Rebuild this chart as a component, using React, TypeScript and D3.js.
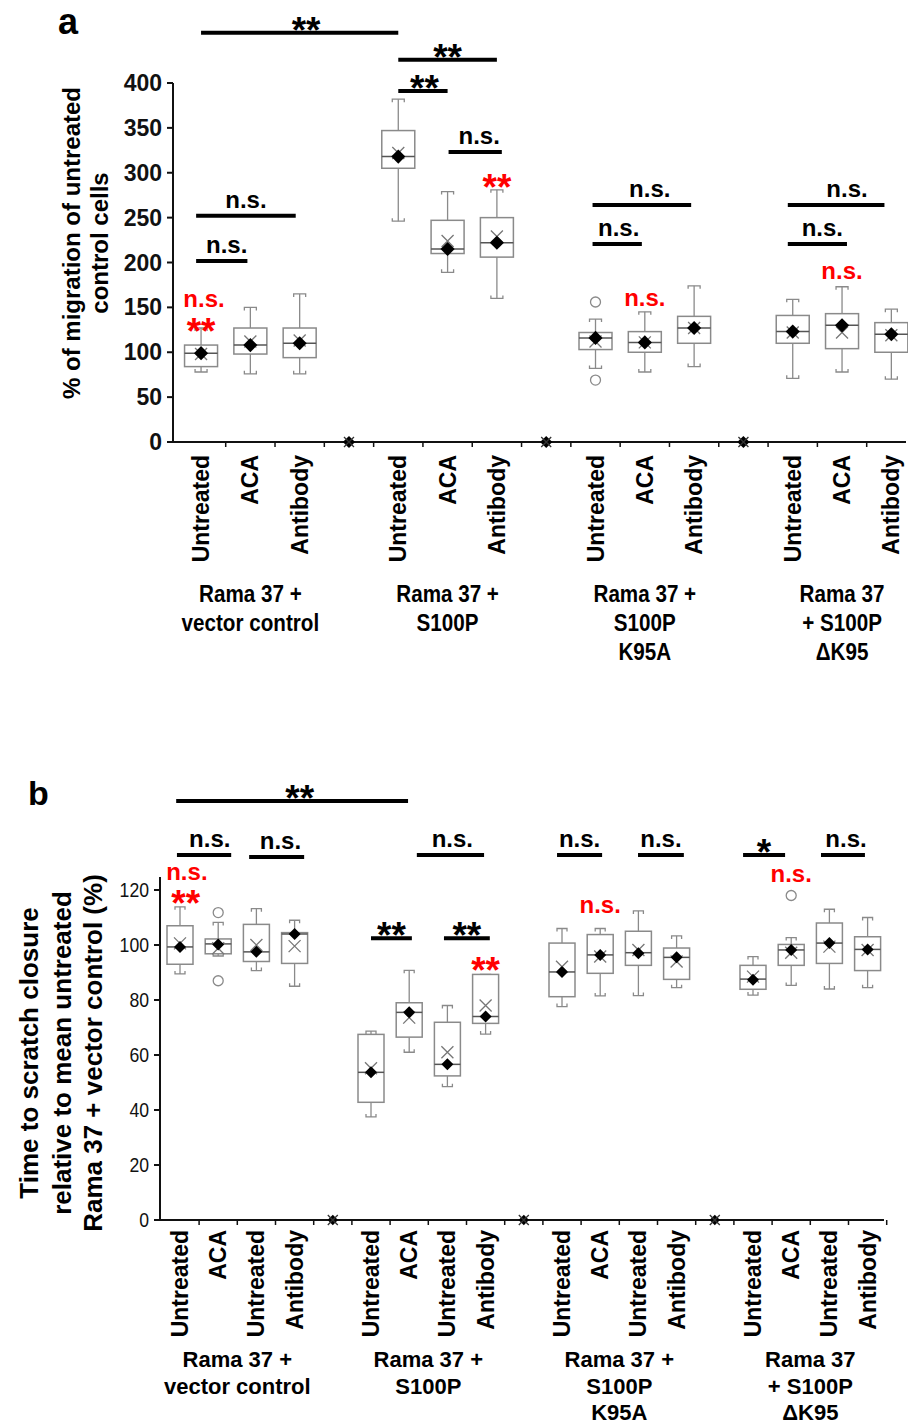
import React from "react";
import * as d3 from "d3";

const ARIAL = "'Liberation Sans', Arial, sans-serif";

// ---------- panel a ----------
const catsA = ["Untreated", "ACA", "Antibody"];
const groupsA = [
  ["Rama 37 +", "vector control"],
  ["Rama 37 +", "S100P"],
  ["Rama 37 +", "S100P", "K95A"],
  ["Rama 37", "+ S100P", "\u0394K95"],
];
// [low whisker, q1, median, q3, high whisker]
const boxesA = [
  [78, 84, 99, 108, 127],
  [76, 98, 108, 127, 150],
  [76, 94, 110, 127, 165],
  [246, 305, 318, 347, 382],
  [189, 210, 215, 247, 279],
  [160, 206, 222, 250, 281],
  [82, 103, 116, 122, 137],
  [78, 100, 111, 123, 145],
  [84, 110, 127, 140, 174],
  [71, 110, 123, 141, 159],
  [78, 104, 130, 143, 173],
  [70, 100, 120, 133, 148],
];
const diamondA = [99, 108, 110, 318, 215, 222, 116, 111, 127, 123, 130, 120];
const crossA = [98, 112, 113, 322, 224, 229, 112, 111, 127, 122, 122, 119];
const outliersA = [[], [], [], [], [], [], [156, 69], [], [], [], [], []];
const ticksA = [0, 50, 100, 150, 200, 250, 300, 350, 400];
// comparison bars: [from slot, to slot, level, label, text shift]
const barsA: [number, number, number, string, number][] = [
  [0, 4, 456, "**", 0.13],
  [4, 6, 426, "**", 0],
  [4, 5, 391, "**", 0.03],
  [5.02, 6.1, 323, "n.s.", 0.08],
  [-0.1, 1.92, 252, "n.s.", 0],
  [-0.1, 0.94, 201.7, "n.s.", 0.1],
  [7.94, 9.94, 264, "n.s.", 0.16],
  [7.94, 8.94, 220.6, "n.s.", 0.03],
  [11.9, 13.86, 264, "n.s.", 0.22],
  [11.9, 13.1, 220.6, "n.s.", 0.1],
];
// red labels: [slot, level, label]
const redA: [number, number, string][] = [
  [0.06, 141.5, "n.s."],
  [0, 120, "**"],
  [6, 281, "**"],
  [9, 142.6, "n.s."],
  [13, 172.7, "n.s."],
];

// ---------- panel b ----------
const catsB = ["Untreated", "ACA", "Untreated", "Antibody"];
const groupsB = groupsA;
const boxesB = [
  [89.5, 93, 99.3, 107, 113.9],
  [96, 96.8, 100.4, 102.2, 108.2],
  [90.7, 94, 97.5, 107.5, 113.2],
  [85, 93.3, 104, 104.5, 109],
  [37.5, 42.8, 53.7, 67.5, 68.7],
  [61, 66.5, 75.5, 79, 90.8],
  [48.5, 52.4, 56.6, 71.9, 78],
  [67.6, 71.5, 74, 89.3, 89.3],
  [77.6, 81.2, 90.2, 100.7, 106],
  [81.5, 89.7, 96.4, 103.8, 106],
  [81.6, 92.6, 97.2, 105, 112.4],
  [84.5, 87.5, 95.5, 98.9, 103.3],
  [81.8, 83.9, 87.6, 92.6, 95.8],
  [85.3, 92.6, 98.2, 100.2, 102.7],
  [84, 93.3, 100.7, 108, 113],
  [84.5, 90.7, 98.4, 103, 110],
];
const diamondB = [99.3, 100.2, 97.5, 104, 53.7, 75.5, 56.6, 74, 90.2, 96.4, 97, 95.5, 87.4, 98.2, 100.7, 98.4];
const crossB = [100.6, 98.8, 100, 99.6, 55.2, 73.6, 61, 78, 92.1, 95.8, 98.2, 94, 88.5, 97.2, 99.4, 98.2];
const outliersB = [[], [111.8, 87], [], [], [], [], [], [], [], [], [], [], [], [118], [], []];
const ticksB = [0, 20, 40, 60, 80, 100, 120];
const barsB: [number, number, number, string, number][] = [
  [-0.1, 5.97, 152.4, "**", 0.2],
  [-0.08, 1.34, 132.7, "n.s.", 0.15],
  [1.81, 3.25, 132, "n.s.", 0.1],
  [6.2, 7.96, 132.7, "n.s.", 0.05],
  [5, 6.07, 102.5, "**", 0],
  [6.91, 8.11, 102.5, "**", 0],
  [9.87, 11.05, 132.7, "n.s.", 0],
  [11.99, 13.19, 132.7, "n.s.", 0],
  [14.74, 15.84, 132.7, "*", 0],
  [16.78, 17.93, 132.7, "n.s.", 0.08],
];
const redB: [number, number, string][] = [
  [0.18, 120.7, "n.s."],
  [0.15, 114.2, "**"],
  [8, 89.8, "**"],
  [11, 108.7, "n.s."],
  [16, 120, "n.s."],
];

type PanelCfg = {
  cats: string[];
  groups: string[][];
  boxes: number[][];
  diamond: number[];
  cross: number[];
  outliers: number[][];
  ticks: number[];
  bars: [number, number, number, string, number][];
  red: [number, number, string][];
  x: d3.ScaleLinear<number, number>;
  y: d3.ScaleLinear<number, number>;
  axisLeft: number;
  axisRight: number;
  axisTop: number;
  boxW: number;
  capW: number;
  diamondSize: number;
  tickWeight: string | number;
  tickSize: number;
  tickStretch: number;
  groupStretch: number;
  groupSize: number;
  groupTop: number;
  groupLine: number;
  catTop: number;
};

const asteriskOffset = 10;
const nsOffset = -8;

const Panel = ({ c }: { c: PanelCfg }) => {
  const per = c.cats.length;
  const nGroups = c.groups.length;
  const slotOf = (i: number) => Math.floor(i / per) * (per + 1) + (i % per);
  const nSlots = nGroups * (per + 1) - 1;
  const y0 = c.y(0);
  const diamond = d3.symbol(d3.symbolSquare, c.diamondSize)();
  const smallDiamond = d3.symbol(d3.symbolSquare, c.diamondSize * 0.75)();
  const xr = 6;
  const crossPath = `M${-xr},${-xr}L${xr},${xr}M${-xr},${xr}L${xr},${-xr}`;
  const grey = "#8a8a8a";

  const labelY = (v: number, t: string) =>
    c.y(v) + (t === "n.s." ? nsOffset : asteriskOffset);

  return (
    <g>
      {/* y axis */}
      <line x1={c.axisLeft} x2={c.axisLeft} y1={c.axisTop} y2={y0} stroke="#111" strokeWidth={2} />
      {c.ticks.map((t) => (
        <g key={t} transform={`translate(${c.axisLeft},${c.y(t)})`}>
          <line x1={-6} x2={0} stroke="#111" strokeWidth={2} />
          <text
            transform={`translate(-11,0) scale(${c.tickStretch},1)`}
            dy="0.35em"
            textAnchor="end"
            fontFamily={ARIAL}
            fontWeight={c.tickWeight}
            fontSize={c.tickSize}
            fill="#111"
          >
            {t}
          </text>
        </g>
      ))}
      {/* x axis */}
      <line x1={c.axisLeft} x2={c.axisRight} y1={y0} y2={y0} stroke="#111" strokeWidth={2} />
      {d3.range(nSlots).map((i) => (
        <line key={i} x1={c.x(i + 0.5)} x2={c.x(i + 0.5)} y1={y0} y2={y0 + 5} stroke="#111" strokeWidth={1.5} />
      ))}
      {/* empty separator slots */}
      {d3.range(nGroups - 1).map((g) => {
        const sx = c.x(g * (per + 1) + per);
        return (
          <g key={g} transform={`translate(${sx},${y0})`}>
            <path d={smallDiamond} transform="rotate(45)" fill="#000" />
            <path d={`M-5,-5L5,5M-5,5L5,-5`} stroke="#333" strokeWidth={1.3} />
          </g>
        );
      })}
      {/* boxes */}
      {c.boxes.map((b, i) => {
        const cx = c.x(slotOf(i));
        const [lo, q1, med, q3, hi] = b;
        const hw = c.boxW / 2;
        const cw = c.capW / 2;
        return (
          <g key={i}>
            <line x1={cx} x2={cx} y1={c.y(hi)} y2={c.y(q3)} stroke={grey} strokeWidth={1.3} />
            <line x1={cx} x2={cx} y1={c.y(q1)} y2={c.y(lo)} stroke={grey} strokeWidth={1.3} />
            <path
              d={`M${cx - cw},${c.y(hi) + 3}V${c.y(hi)}H${cx + cw}V${c.y(hi) + 3}`}
              fill="none"
              stroke={grey}
              strokeWidth={1.3}
            />
            <path
              d={`M${cx - cw},${c.y(lo) - 3}V${c.y(lo)}H${cx + cw}V${c.y(lo) - 3}`}
              fill="none"
              stroke={grey}
              strokeWidth={1.3}
            />
            <rect
              x={cx - hw}
              y={c.y(q3)}
              width={c.boxW}
              height={c.y(q1) - c.y(q3)}
              fill="#fff"
              stroke={grey}
              strokeWidth={1.5}
            />
            <line x1={cx - hw} x2={cx + hw} y1={c.y(med)} y2={c.y(med)} stroke="#555" strokeWidth={1.5} />
            {c.outliers[i].map((o, k) => (
              <circle key={k} cx={cx} cy={c.y(o)} r={5} fill="#fff" stroke={grey} strokeWidth={1.3} />
            ))}
            <path d={crossPath} transform={`translate(${cx},${c.y(c.cross[i])})`} stroke="#777" strokeWidth={1.3} />
            <path d={diamond} transform={`translate(${cx},${c.y(c.diamond[i])}) rotate(45)`} fill="#000" />
          </g>
        );
      })}
      {/* comparison bars */}
      {c.bars.map(([a, b, v, t, s], i) => (
        <g key={i}>
          <line x1={c.x(a)} x2={c.x(b)} y1={c.y(v)} y2={c.y(v)} stroke="#000" strokeWidth={4} />
          <text
            x={c.x((a + b) / 2 + s)}
            y={labelY(v, t)}
            textAnchor="middle"
            fontFamily={ARIAL}
            fontWeight="bold"
            fontSize={t === "n.s." ? 24 : 37}
            fill="#000"
          >
            {t}
          </text>
        </g>
      ))}
      {c.red.map(([sl, v, t], i) => (
        <text
          key={i}
          x={c.x(sl)}
          y={labelY(v, t)}
          textAnchor="middle"
          fontFamily={ARIAL}
          fontWeight="bold"
          fontSize={t === "n.s." ? 24 : 37}
          fill="#ff0000"
        >
          {t}
        </text>
      ))}
      {/* category labels */}
      {d3.range(c.boxes.length).map((i) => {
        const cx = c.x(slotOf(i)) + 8;
        return (
          <text
            key={i}
            transform={`translate(${cx},${c.catTop}) rotate(-90)`}
            textAnchor="end"
            fontFamily={ARIAL}
            fontWeight="bold"
            fontSize={23}
            fill="#000"
          >
            {c.cats[i % per]}
          </text>
        );
      })}
      {/* group labels */}
      {c.groups.map((lines, g) => {
        const gx = c.x(g * (per + 1) + (per - 1) / 2);
        return (
          <text
            key={g}
            transform={`translate(${gx},0) scale(${c.groupStretch},1)`}
            textAnchor="middle"
            fontFamily={ARIAL}
            fontWeight="bold"
            fontSize={c.groupSize}
            fill="#000"
          >
            {lines.map((l, k) => (
              <tspan key={k} x={0} y={c.groupTop + k * c.groupLine}>
                {l}
              </tspan>
            ))}
          </text>
        );
      })}
    </g>
  );
};

const App = () => {
  const cfgA: PanelCfg = {
    cats: catsA,
    groups: groupsA,
    boxes: boxesA,
    diamond: diamondA,
    cross: crossA,
    outliers: outliersA,
    ticks: ticksA,
    bars: barsA,
    red: redA,
    x: d3.scaleLinear().domain([-0.5, 14.5]).range([176.4, 916]),
    y: d3.scaleLinear().domain([0, 400]).range([442, 83]),
    axisLeft: 173,
    axisRight: 906,
    axisTop: 83,
    boxW: 33,
    capW: 12,
    diamondSize: 100,
    tickWeight: "bold",
    tickSize: 23,
    tickStretch: 1,
    groupStretch: 0.86,
    groupSize: 24,
    groupTop: 602,
    groupLine: 29,
    catTop: 455,
  };
  const cfgB: PanelCfg = {
    cats: catsB,
    groups: groupsB,
    boxes: boxesB,
    diamond: diamondB,
    cross: crossB,
    outliers: outliersB,
    ticks: ticksB,
    bars: barsB,
    red: redB,
    x: d3.scaleLinear().domain([-0.5, 18.5]).range([160.9, 886.7]),
    y: d3.scaleLinear().domain([0, 120]).range([1220, 890]),
    axisLeft: 160,
    axisRight: 884,
    axisTop: 877,
    boxW: 26,
    capW: 10,
    diamondSize: 72,
    tickWeight: "normal",
    tickSize: 21,
    tickStretch: 0.84,
    groupStretch: 1,
    groupSize: 22,
    groupTop: 1367,
    groupLine: 26.5,
    catTop: 1230,
  };

  return (
    <svg width={908} height={1426} style={{ position: "absolute", left: 0, top: 0, background: "#fff" }}>
      <rect width={908} height={1426} fill="#fff" />
      <text x={58} y={34} fontFamily={ARIAL} fontWeight="bold" fontSize={36}>a</text>
      <text x={28} y={805} fontFamily={ARIAL} fontWeight="bold" fontSize={34}>b</text>
      <text
        transform="translate(0,243) rotate(-90)"
        textAnchor="middle"
        fontFamily={ARIAL}
        fontWeight="bold"
        fontSize={24}
      >
        <tspan x={0} y={80}>% of migration of untreated</tspan>
        <tspan x={0} y={108}>control cells</tspan>
      </text>
      <text
        transform="translate(0,1053) rotate(-90)"
        textAnchor="middle"
        fontFamily={ARIAL}
        fontWeight="bold"
        fontSize={26}
      >
        <tspan x={0} y={38}>Time to scratch closure</tspan>
        <tspan x={0} y={71}>relative to mean untreated</tspan>
        <tspan x={0} y={102}>Rama 37 + vector control (%)</tspan>
      </text>
      <Panel c={cfgA} />
      <Panel c={cfgB} />
    </svg>
  );
};

export default App;
